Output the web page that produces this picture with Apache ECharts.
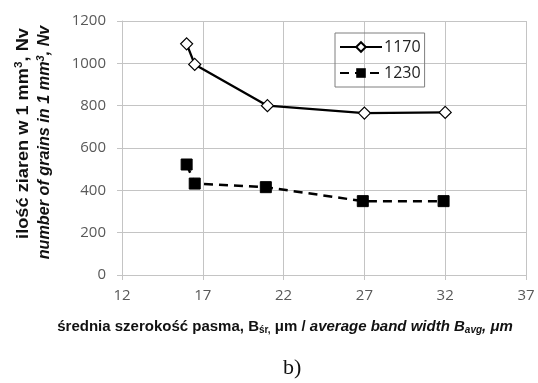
<!DOCTYPE html>
<html lang="pl">
<head>
  <meta charset="utf-8">
  <title>Nv vs B</title>
  <script src="https://cdn.jsdelivr.net/npm/echarts@6/dist/echarts.min.js"></script>
  <style>
    html, body { margin: 0; height: 100%; background: #fff; }
    #chart { width: 538px; height: 383px; }
  </style>
</head>
<body>
  <div id="chart"></div>
  <script>
    // wartości
    var seriesNames = ['1170', '1230'];
    var x1170 = [16.0, 16.5, 21.0, 27.0, 32.0];
    var y1170 = [1092, 995, 800, 765, 768];
    var x1230 = [16.0, 16.5, 20.9, 26.9, 31.9];
    var y1230 = [522, 432, 415, 349, 349];
    var xTicks = [12, 17, 22, 27, 32, 37];
    var yTicks = [0, 200, 400, 600, 800, 1000, 1200];

    function pairs(xs, ys) {
      return xs.map(function (x, i) { return [x, ys[i]]; });
    }

    var chart = echarts.init(document.getElementById('chart'), null, { renderer: 'canvas' });
    var gridColor = '#c4c4c4';
    var tickText = { color: '#595959', fontSize: 15, fontFamily: 'Open Sans' };
    var bold = { fontFamily: 'Liberation Sans', fontWeight: 'bold', fontSize: 15, fill: '#111', lineHeight: 20 };
    function st(extra) { return Object.assign({}, bold, extra); }

    var option = {
      animation: false,
      backgroundColor: '#fff',
      grid: { left: 122, right: 12, top: 21, bottom: 108 },
      legend: {
        orient: 'vertical',
        left: 335,
        top: 33,
        width: 87,
        padding: [6, 4, 6, 4],
        itemGap: 10,
        itemWidth: 42,
        itemHeight: 12,
        borderColor: '#7f7f7f',
        borderWidth: 1,
        textStyle: { color: '#222', fontSize: 16, fontFamily: 'Open Sans', padding: [0, 0, 0, -3] },
        data: seriesNames
      },
      xAxis: {
        type: 'value',
        min: xTicks[0],
        max: xTicks[xTicks.length - 1],
        interval: 5,
        axisLine: { show: true, lineStyle: { color: gridColor } },
        axisTick: { show: true, length: 5, lineStyle: { color: gridColor } },
        splitLine: { show: true, lineStyle: { color: gridColor } },
        axisLabel: Object.assign({ margin: 13 }, tickText)
      },
      yAxis: {
        type: 'value',
        min: yTicks[0],
        max: yTicks[yTicks.length - 1],
        interval: 200,
        axisLine: { show: true, lineStyle: { color: gridColor } },
        axisTick: { show: true, length: 5, lineStyle: { color: gridColor } },
        splitLine: { show: true, lineStyle: { color: gridColor } },
        axisLabel: Object.assign({ margin: 16, formatter: function (v) { return String(v); } }, tickText)
      },
      graphic: [
        {
          type: 'text',
          x: 285,
          y: 327,
          style: {
            text: '{b|średnia szerokość pasma, B}{bs|śr,}{b| μm / }{i|average band width B}{is|avg}{i|, μm}',
            align: 'center',
            verticalAlign: 'middle',
            rich: {
              b: st({}),
              bs: st({ fontSize: 10, padding: [7, 0, 0, 0] }),
              i: st({ fontStyle: 'italic' }),
              is: st({ fontStyle: 'italic', fontSize: 10, padding: [7, 0, 0, 0] })
            }
          }
        },
        {
          type: 'text',
          x: 23,
          y: 133.5,
          rotation: Math.PI / 2,
          scaleX: 1.07,
          style: {
            text: '{b|ilość ziaren w 1 mm}{sup|3}{b|, Nv}',
            align: 'center',
            verticalAlign: 'middle',
            rich: {
              b: st({ fontSize: 17, lineHeight: 19 }),
              sup: st({ fontSize: 11, lineHeight: 11, verticalAlign: 'top' })
            }
          }
        },
        {
          type: 'text',
          x: 45,
          y: 142.5,
          rotation: Math.PI / 2,
          style: {
            text: '{i|number of grains in 1 mm}{sup|3}{i|, Nv}',
            align: 'center',
            verticalAlign: 'middle',
            rich: {
              i: st({ fontSize: 16.2, lineHeight: 19, fontStyle: 'italic' }),
              sup: st({ fontSize: 11, lineHeight: 11, fontStyle: 'italic', verticalAlign: 'top' })
            }
          }
        },
        {
          type: 'text',
          left: 283,
          top: 357,
          style: { text: 'b)', font: '22px "Liberation Serif"', fill: '#111' }
        }
      ],
      series: [
        {
          name: seriesNames[0],
          type: 'line',
          data: pairs(x1170, y1170),
          symbol: 'diamond',
          symbolSize: 12,
          lineStyle: { color: '#000', width: 2.3 },
          itemStyle: { color: '#fff', borderColor: '#000', borderWidth: 1.2 }
        },
        {
          name: seriesNames[1],
          type: 'line',
          data: pairs(x1230, y1230),
          symbol: 'rect',
          symbolSize: 11,
          lineStyle: { color: '#000', width: 2.5, type: [9, 6] },
          itemStyle: { color: '#000', borderColor: '#000' }
        }
      ]
    };

    chart.setOption(option);
  </script>
</body>
</html>
